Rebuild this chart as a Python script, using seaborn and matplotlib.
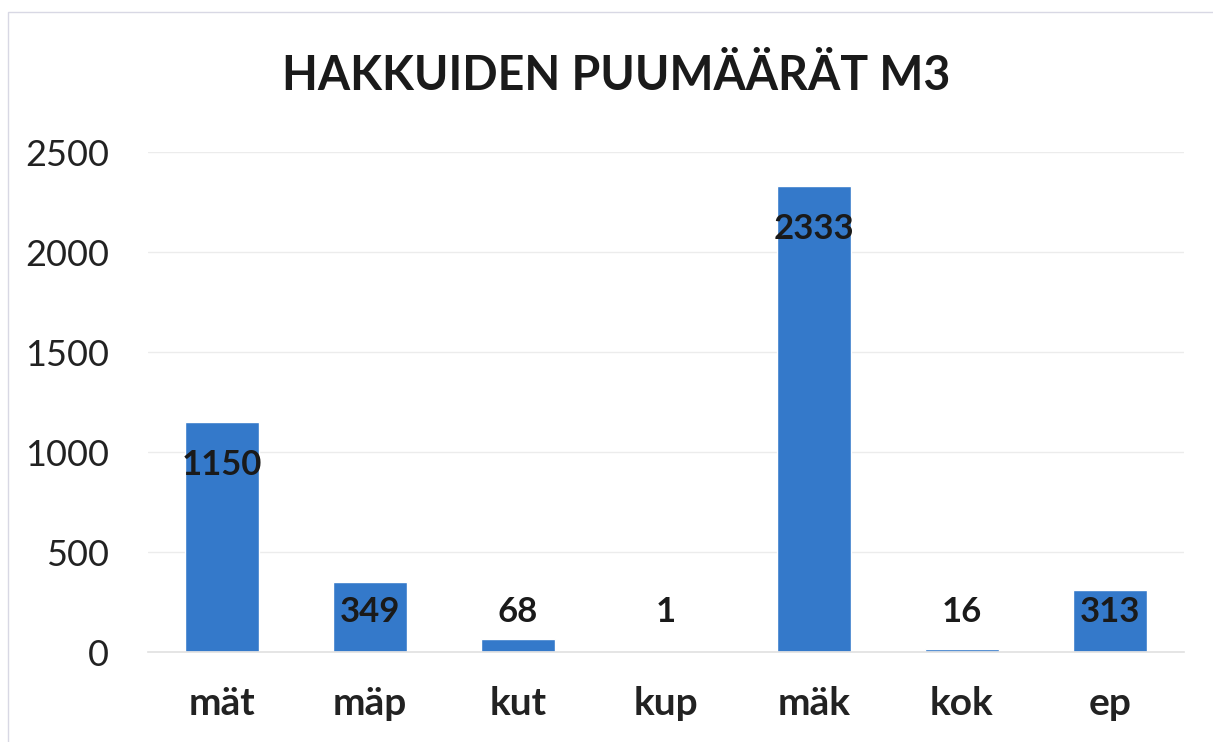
import matplotlib
matplotlib.use("Agg")
import matplotlib.pyplot as plt
import seaborn as sns
import pandas as pd
from matplotlib.patches import Rectangle

categories = ["mät", "mäp", "kut", "kup", "mäk", "kok", "ep"]
volumes = [1150, 349, 68, 1, 2333, 16, 313]
y_ticks = [0, 500, 1000, 1500, 2000, 2500]

df = pd.DataFrame({"laji": categories, "m3": volumes})

sns.set_theme(style="white")
plt.rcParams["font.family"] = ["Lato", "DejaVu Sans"]

fig = plt.figure(figsize=(12.13, 7.42), dpi=100)
ax = fig.add_axes([0.122, 0.121, 0.854, 0.674])

sns.barplot(data=df, x="laji", y="m3", color="#3479CA", saturation=1,
            width=0.5, ax=ax)

ax.set_ylim(0, 2500)
ax.set_xlim(-0.5, len(categories) - 0.5)
ax.set_yticks(y_ticks)
ax.set_yticklabels([str(t) for t in y_ticks], fontsize=26, color="#222222")
ax.tick_params(axis="x", labelsize=28, pad=24, length=0)
ax.tick_params(axis="y", pad=28, length=0)
for lbl in ax.get_xticklabels():
    lbl.set_fontweight("bold")
    lbl.set_color("#222222")
ax.set_xlabel("")
ax.set_ylabel("")
ax.yaxis.grid(True, color="#ececec", linewidth=1)
ax.set_axisbelow(True)
for s in ["top", "right", "left"]:
    ax.spines[s].set_visible(False)
ax.spines["bottom"].set_color("#e2e2e2")

# data labels at the inside end of each bar
for i, v in enumerate(volumes):
    ax.text(i, max(v - 215, 200), str(v), ha="center", va="center",
            fontsize=25, fontweight="bold", color="#1a1a1a")

fig.text(0.508, 0.898, "HAKKUIDEN PUUMÄÄRÄT M3", ha="center", va="center",
         fontsize=33.5, fontweight="bold", color="#1a1a1a")

fig.patches.append(Rectangle((0.007, -0.01), 1.1, 0.994, transform=fig.transFigure,
                             fill=False, edgecolor="#d8d8e4", linewidth=1))

fig.savefig("out.png", dpi=100)
